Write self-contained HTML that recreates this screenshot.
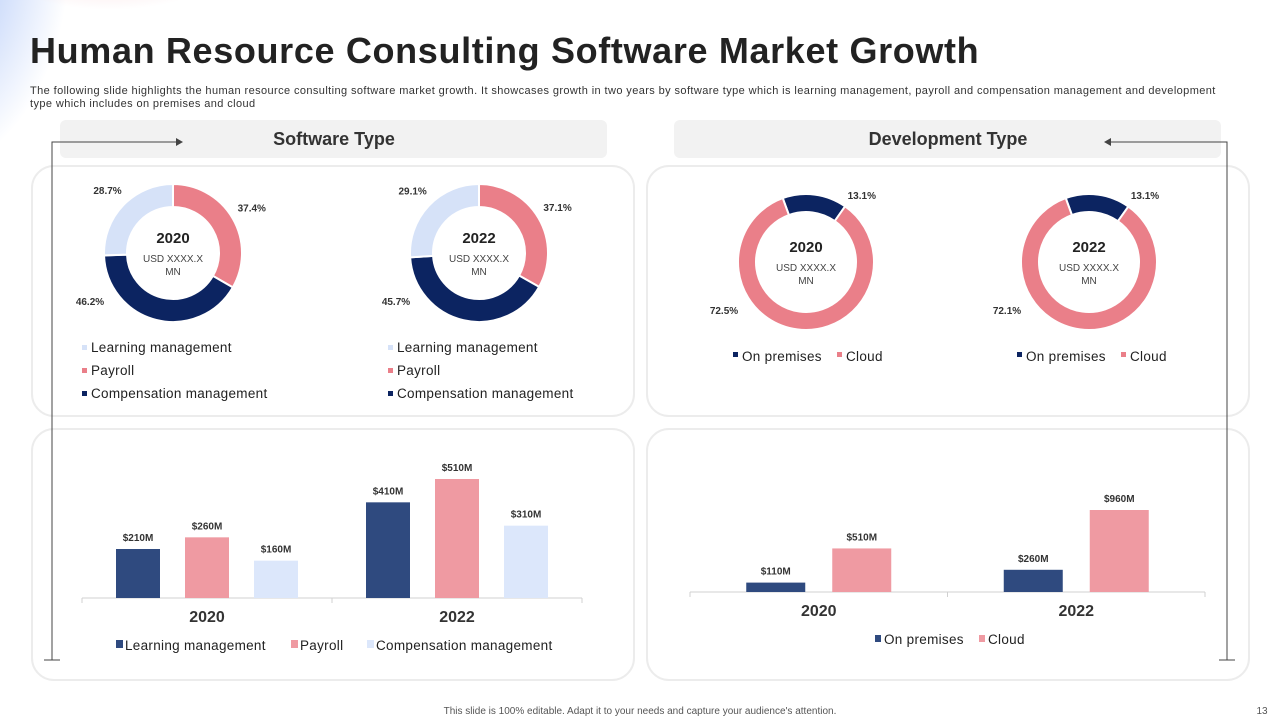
<!DOCTYPE html>
<html><head><meta charset="utf-8"><style>
html,body{margin:0;padding:0;background:#fff;}
body{width:1280px;height:720px;overflow:hidden;position:relative;font-family:"Liberation Sans",sans-serif;}
svg{position:absolute;left:0;top:0;}
</style></head><body>
<svg id="s" width="1280" height="720" viewBox="0 0 1280 720">
<defs>
<radialGradient id="gb" cx="0" cy="0.1" r="1"><stop offset="0" stop-color="#8fb0f5" stop-opacity="0.9"/><stop offset="1" stop-color="#8fb0f5" stop-opacity="0"/></radialGradient>
<radialGradient id="gp" cx="0.5" cy="0" r="0.6"><stop offset="0" stop-color="#f6c3c8" stop-opacity="0.8"/><stop offset="1" stop-color="#f6c3c8" stop-opacity="0"/></radialGradient>
</defs>
<ellipse cx="0" cy="40" rx="70" ry="110" fill="url(#gb)"/>
<ellipse cx="110" cy="0" rx="110" ry="50" fill="url(#gp)"/>
<text x="30" y="63" font-size="36" font-weight="bold" letter-spacing="0.65" fill="#222">Human Resource Consulting Software Market Growth</text>
<text x="30" y="94" font-size="11" letter-spacing="0.4" fill="#333">The following slide highlights the human resource consulting software market growth. It showcases growth in two years by software type which is learning management, payroll and compensation management and development</text>
<text x="30" y="107" font-size="11" letter-spacing="0.4" fill="#333">type which includes on premises and cloud</text>

<rect x="60" y="120" width="547" height="38" rx="6" fill="#f2f2f2"/>
<text x="334" y="145" font-size="18" font-weight="bold" fill="#333" text-anchor="middle">Software Type</text>
<rect x="674" y="120" width="547" height="38" rx="6" fill="#f2f2f2"/>
<text x="948" y="145" font-size="18" font-weight="bold" fill="#333" text-anchor="middle">Development Type</text>

<rect x="32" y="166" width="602" height="250" rx="22" fill="#fff" stroke="#ececec" stroke-width="2"/>
<rect x="647" y="166" width="602" height="250" rx="22" fill="#fff" stroke="#ececec" stroke-width="2"/>
<rect x="32" y="429" width="602" height="251" rx="22" fill="#fff" stroke="#ececec" stroke-width="2"/>
<rect x="647" y="429" width="602" height="251" rx="22" fill="#fff" stroke="#ececec" stroke-width="2"/>

<g stroke="#444" stroke-width="1" fill="none">
<path d="M52 660 V142 H176"/><path d="M44 660 H60"/>
</g>
<path d="M176 138 L183 142 L176 146 Z" fill="#444"/>
<g stroke="#444" stroke-width="1" fill="none">
<path d="M1227 660 V142 H1111"/><path d="M1219 660 H1235"/>
</g>
<path d="M1111 138 L1104 142 L1111 146 Z" fill="#444"/>

<g id="charts"></g>
<text x="640" y="714" font-size="10" fill="#555" text-anchor="middle">This slide is 100% editable. Adapt it to your needs and capture your audience's attention.</text>
<text x="1262" y="714" font-size="10" fill="#555" text-anchor="middle">13</text>
</svg>
<script>
const swLabels = ["Payroll","Compensation management","Learning management"];
const sw2020 = [37.4, 46.2, 28.7];
const sw2022 = [37.1, 45.7, 29.1];
const devLabels = ["On premises","Cloud"];
const dev2020 = [13.1, 72.5];
const dev2022 = [13.1, 72.1];
const barYears = ["2020","2022"];
const barLearning = [210, 410];
const barPayroll = [260, 510];
const barComp = [160, 310];
const barOnPrem = [110, 260];
const barCloud = [510, 960];

const NS="http://www.w3.org/2000/svg";
const root=document.getElementById('charts');
function mk(tag,attrs,parent){const e=document.createElementNS(NS,tag);for(const k in attrs)e.setAttribute(k,attrs[k]);(parent||root).appendChild(e);return e;}
function txt(x,y,s,size,weight,fill,anchor,parent){const t=mk('text',{x:x,y:y,'font-size':size,'font-weight':weight,fill:fill,'text-anchor':anchor},parent);t.textContent=s;return t;}
function pt(cx,cy,r,a){return [cx+r*Math.sin(a),cy-r*Math.cos(a)];}

function donut(cx,cy,ro,ri,vals,colors,startDeg,year,name){
  const g=mk('g',{});
  
  
  const tot=vals.reduce((a,b)=>a+b,0);
  let a=startDeg*Math.PI/180;
  vals.forEach((v,i)=>{
    const da=v/tot*2*Math.PI, b=a+da, lg=da>Math.PI?1:0;
    const p1=pt(cx,cy,ro,a),p2=pt(cx,cy,ro,b),p3=pt(cx,cy,ri,b),p4=pt(cx,cy,ri,a);
    const p=mk('path',{d:`M${p1} A${ro} ${ro} 0 ${lg} 1 ${p2} L${p3} A${ri} ${ri} 0 ${lg} 0 ${p4} Z`,fill:colors[i],stroke:'#fff','stroke-width':2},g);
    
    
    const m=a+da/2; let lp=pt(cx,cy,ro+22,m);
    if(lp[1]-cy>30){ lp=[cx+(Math.sin(m)<0?-1:1)*(ro+14), cy+48]; }
    else if(lp[1]-cy<-ro){ lp=[lp[0]+44, cy-ro+1]; }
    const l=txt(lp[0],lp[1]+4,v.toFixed(1)+'%',10,'bold','#333','middle',g);
    
    
    a=b;
  });
  const t1=txt(cx,cy-10,year,15,'bold','#222','middle',g);
  
  
  const t2=txt(cx,cy+9,'USD XXXX.X',10,'normal','#444','middle',g);
  
  
  const t3=txt(cx,cy+22,'MN',10,'normal','#444','middle',g);
  
  
}
const swColors=['#ea7f89','#0c2461','#d6e2f8'];
donut(173,253,69,46,sw2020,swColors,0,'2020','donut-software-2020');
donut(479,253,69,46,sw2022,swColors,0,'2022','donut-software-2022');
const devColors=['#0c2461','#ea7f89'];
donut(806,262,68,50,dev2020,devColors,-20,'2020','donut-development-2020');
donut(1089,262,68,50,dev2022,devColors,-20,'2022','donut-development-2022');

// donut legends
const legOrder=[[2,'#d6e2f8'],[0,'#ea7f89'],[1,'#0c2461']];
[82,388].forEach((x,k)=>{
  legOrder.forEach((o,i)=>{
    const y=351+i*23;
    const r=mk('rect',{x:x,y:y-6,width:5,height:5,fill:o[1]});
    
    
    const t=mk('text',{x:x+9,y:y+1,'font-size':13.5,'letter-spacing':0.3,fill:'#222'});
    t.textContent=swLabels[o[0]];
    
    
  });
});
[733,1017].forEach(x=>{
  [[0,'#0c2461',0],[1,'#ea7f89',104]].forEach(o=>{
    const r=mk('rect',{x:x+o[2],y:352,width:5,height:5,fill:o[1]});
    
    
    const t=mk('text',{x:x+o[2]+9,y:361,'font-size':13.5,'letter-spacing':0.3,fill:'#222'});
    t.textContent=devLabels[o[0]];
    
    
  });
});

function barChart(x0,x1,base,scale,series,colors,bw,gap,name){
  const g=mk('g',{});
  
  
  const ax=mk('line',{x1:x0,y1:base,x2:x1,y2:base,stroke:'#d0d0d0'},g);
  
  
  const cw=(x1-x0)/barYears.length;
  for(let i=0;i<=barYears.length;i++){const tk=mk('line',{x1:x0+i*cw,y1:base,x2:x0+i*cw,y2:base+5,stroke:'#d0d0d0'},g);}
  barYears.forEach((yr,i)=>{
    const c=x0+cw*(i+0.5);
    const n=series.length, totalW=n*bw+(n-1)*gap;
    series.forEach((s,j)=>{
      const h=s[i]*scale, x=c-totalW/2+j*(bw+gap);
      const r=mk('rect',{x:x,y:base-h,width:bw,height:h,fill:colors[j]},g);
      
      
      const l=txt(x+bw/2,base-h-8,'$'+s[i]+'M',10,'bold','#333','middle',g);
      
      
    });
    const t=txt(c,base+24,yr,16,'bold','#333','middle',g);
    
    
  });
}
barChart(82,582,598,119/510,[barLearning,barPayroll,barComp],['#2f4a7f','#ef9aa2','#dce7fb'],44,25,'software-bar-chart');
barChart(690,1205,592,82/960,[barOnPrem,barCloud],['#2f4a7f','#ef9aa2'],59,27,'development-bar-chart');

// bar legends
[[116,0,'Learning  management','#2f4a7f'],[291,1,'Payroll','#ef9aa2'],[367,2,'Compensation management','#dce7fb']].forEach(o=>{
  const r=mk('rect',{x:o[0],y:640,width:7,height:8,fill:o[3]});
  
  
  const t=mk('text',{x:o[0]+9,y:650,'font-size':13.5,'letter-spacing':0.3,fill:'#222'});
  t.textContent=o[2];
  
  
});
[[875,'On premises','#2f4a7f'],[979,'Cloud','#ef9aa2']].forEach(o=>{
  const r=mk('rect',{x:o[0],y:635,width:6,height:7,fill:o[2]});
  
  
  const t=mk('text',{x:o[0]+9,y:644,'font-size':13.5,'letter-spacing':0.3,fill:'#222'});
  t.textContent=o[1];
  
  
});
</script>
</body></html>
